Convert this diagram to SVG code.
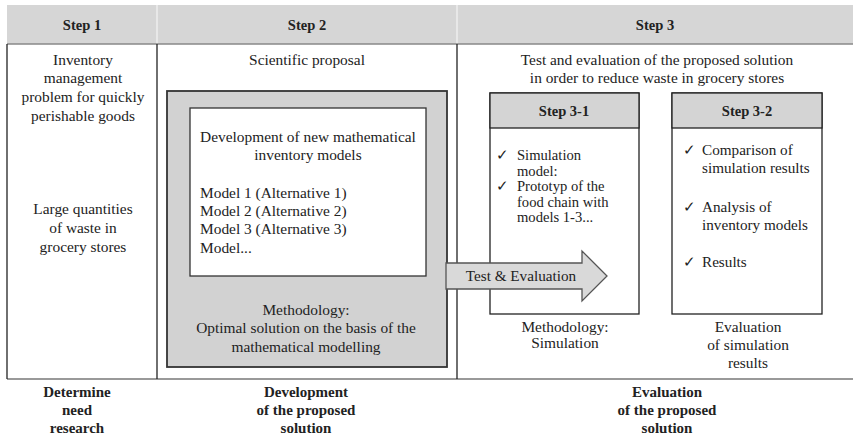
<svg xmlns="http://www.w3.org/2000/svg" width="853" height="436" viewBox="0 0 853 436">
<style>
text{font-family:"Liberation Serif","Times New Roman",serif;fill:#222;font-size:15.4px}
.c{text-anchor:middle}
.hd{font-weight:bold;font-size:14.5px;text-anchor:middle}
.sm{font-size:15.2px}
.xs{font-size:14.6px}
.ft{font-size:15px;font-weight:bold;text-anchor:middle}
.ln{stroke:#222;stroke-width:1.3;fill:none}
</style>
<rect width="853" height="436" fill="#fff"/>
<g id="table">
<rect x="7" y="5" width="846" height="39" fill="#d6d6d6"/>
<line x1="157" y1="5" x2="157" y2="44" stroke="#e8e8e8" stroke-width="2"/>
<line x1="457" y1="5" x2="457" y2="44" stroke="#e8e8e8" stroke-width="2"/>
<line x1="7" y1="44" x2="853" y2="44" stroke="#888" stroke-width="1.5"/>
<line x1="7" y1="379" x2="853" y2="379" stroke="#777" stroke-width="1.5"/>
<line class="ln" x1="7" y1="44" x2="7" y2="379"/>
<line class="ln" x1="157" y1="44" x2="157" y2="379"/>
<line class="ln" x1="457" y1="44" x2="457" y2="379"/>
<text class="hd" x="82" y="30">Step 1</text>
<text class="hd" x="307" y="30">Step 2</text>
<text class="hd" x="655" y="30">Step 3</text>
</g>
<g id="step1">
<text class="c" x="83" y="65">Inventory</text>
<text class="c" x="83" y="83">management</text>
<text class="c" x="83" y="102">problem for quickly</text>
<text class="c" x="83" y="121">perishable goods</text>
<text class="c" x="83" y="214">Large quantities</text>
<text class="c" x="83" y="233">of waste in</text>
<text class="c" x="83" y="252">grocery stores</text>
</g>
<g id="step2">
<text class="c" x="307" y="65">Scientific proposal</text>
<rect x="167" y="91" width="280" height="276" fill="#d2d2d2" stroke="#333" stroke-width="1.8"/>
<rect x="190" y="108" width="236" height="168" fill="#fff" stroke="#333" stroke-width="1.3"/>
<text class="c" x="308" y="142">Development of new mathematical</text>
<text class="c" x="308" y="160">inventory models</text>
<text x="200" y="198">Model 1 (Alternative 1)</text>
<text x="200" y="216">Model 2 (Alternative 2)</text>
<text x="200" y="234">Model 3 (Alternative 3)</text>
<text x="200" y="253">Model...</text>
<text class="c" x="306" y="315">Methodology:</text>
<text class="c" x="306" y="333">Optimal solution on the basis of the</text>
<text class="c" x="306" y="352">mathematical modelling</text>
</g>
<g id="step3">
<text class="c" x="657" y="65">Test and evaluation of the proposed solution</text>
<text class="c" x="657" y="83">in order to reduce waste in grocery stores</text>
</g>
<g id="step3-1">
<rect x="490" y="93" width="149" height="221" fill="#fff" stroke="#222" stroke-width="1.3"/>
<rect x="490" y="93" width="149" height="35" fill="#d4d4d4" stroke="#222" stroke-width="1.3"/>
<text class="hd" x="564" y="116">Step 3-1</text>
<text class="xs" x="496" y="160">✓</text>
<text class="xs" x="517" y="160">Simulation</text>
<text class="xs" x="517" y="175.5">model:</text>
<text class="xs" x="496" y="191">✓</text>
<text class="xs" x="517" y="191">Prototyp of the</text>
<text class="xs" x="517" y="206.5">food chain with</text>
<text class="xs" x="517" y="222">models 1-3...</text>
<text class="c" x="565" y="332">Methodology:</text>
<text class="c" x="565" y="348">Simulation</text>
</g>
<g id="step3-2">
<rect x="672" y="93" width="150" height="221" fill="#fff" stroke="#222" stroke-width="1.3"/>
<rect x="672" y="93" width="150" height="35" fill="#d4d4d4" stroke="#222" stroke-width="1.3"/>
<text class="hd" x="747" y="116">Step 3-2</text>
<text class="sm" x="683" y="155">✓</text>
<text class="sm" x="702" y="155">Comparison of</text>
<text class="sm" x="702" y="173">simulation results</text>
<text class="sm" x="683" y="212">✓</text>
<text class="sm" x="702" y="212">Analysis of</text>
<text class="sm" x="702" y="230">inventory models</text>
<text class="sm" x="683" y="267">✓</text>
<text class="sm" x="702" y="267">Results</text>
<text class="c" x="748" y="332">Evaluation</text>
<text class="c" x="748" y="350">of simulation</text>
<text class="c" x="748" y="368">results</text>
</g>
<g id="connectors">
<path d="M446,263 L582,263 L582,251 L607,276 L582,301 L582,289 L446,289 Z" fill="#d9d9d9" stroke="#555" stroke-width="1.3"/>
<text class="sm" x="521" y="281" text-anchor="middle">Test &amp; Evaluation</text>
</g>
<g id="footer">
<text class="ft" x="77" y="397">Determine</text>
<text class="ft" x="77" y="415">need</text>
<text class="ft" x="77" y="433">research</text>
<text class="ft" x="306" y="397">Development</text>
<text class="ft" x="306" y="415">of the proposed</text>
<text class="ft" x="306" y="433">solution</text>
<text class="ft" x="667" y="397">Evaluation</text>
<text class="ft" x="667" y="415">of the proposed</text>
<text class="ft" x="667" y="433">solution</text>
</g>
</svg>
